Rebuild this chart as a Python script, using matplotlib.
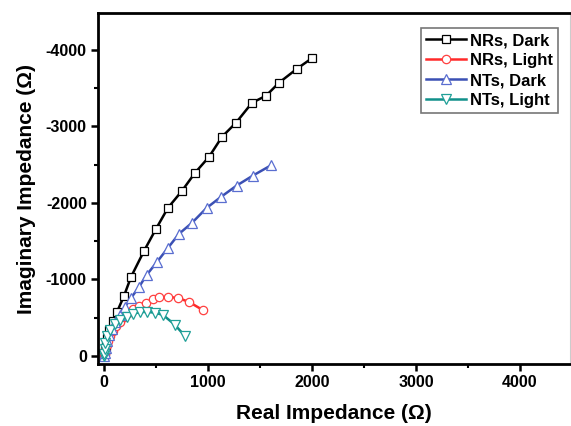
import matplotlib
matplotlib.use("Agg")
import matplotlib.pyplot as plt
from matplotlib.ticker import MultipleLocator, FuncFormatter

plt.rcParams['font.family'] = ['Liberation Sans', 'DejaVu Sans']
plt.rcParams['font.weight'] = 'bold'
plt.rcParams['axes.unicode_minus'] = False

# Data (Real Z', Imaginary Z'')
nr_dark_x = [0, 5, 15, 30, 50, 87, 125, 192, 260, 385, 500, 615, 750, 875, 1010, 1135, 1269, 1423, 1558, 1683, 1856, 2000]
nr_dark_y = [-10, -60, -130, -230, -340, -458, -575, -784, -1033, -1373, -1660, -1935, -2157, -2392, -2601, -2863, -3046, -3307, -3399, -3569, -3752, -3890]

nr_light_x = [0, 5, 12, 25, 40, 60, 85, 115, 150, 190, 230, 279, 337, 404, 471, 529, 615, 712, 817, 950]
nr_light_y = [-5, -30, -80, -140, -200, -260, -330, -390, -450, -510, -560, -614, -654, -693, -745, -771, -771, -758, -706, -600]

nt_dark_x = [0, 5, 15, 30, 50, 75, 110, 150, 200, 260, 337, 410, 510, 615, 721, 846, 988, 1125, 1276, 1433, 1603]
nt_dark_y = [-5, -40, -110, -190, -270, -350, -440, -530, -640, -758, -902, -1059, -1229, -1412, -1595, -1739, -1935, -2078, -2226, -2357, -2488]

nt_light_x = [0, 2, 5, 10, 29, 58, 106, 154, 221, 279, 346, 413, 490, 567, 680, 775]
nt_light_y = [-5, -30, -90, -170, -261, -340, -418, -470, -510, -549, -575, -575, -566, -536, -410, -265]

labels = ['NRs, Dark', 'NRs, Light', 'NTs, Dark', 'NTs, Light']
colors = ['#000000', '#ff2a2a', '#3b50b4', '#11908a']
edge_colors = ['#000000', '#ff4040', '#5a6ed0', '#20a098']
markers = ['s', 'o', '^', 'v']
sizes = [6.0, 6.0, 7.5, 7.5]

fig = plt.figure(figsize=(5.71, 4.26), dpi=100)
ax = fig.add_axes([0.1716, 0.1455, 0.8264, 0.824])

series = [(nr_dark_x, nr_dark_y), (nr_light_x, nr_light_y), (nt_dark_x, nt_dark_y), (nt_light_x, nt_light_y)]
for (x, y), lab, c, ec, m, ms in zip(series, labels, colors, edge_colors, markers, sizes):
    ax.plot(x, y, color=c, lw=1.8, marker=m, markersize=ms, markerfacecolor='white',
            markeredgecolor=ec, markeredgewidth=0.9, label=lab)

ax.set_xlim(-58, 4480)
ax.set_ylim(105, -4480)

ax.xaxis.set_major_locator(MultipleLocator(1000))
ax.xaxis.set_minor_locator(MultipleLocator(500))
ax.yaxis.set_major_locator(MultipleLocator(1000))
ax.yaxis.set_minor_locator(MultipleLocator(500))
ax.xaxis.set_major_formatter(FuncFormatter(lambda v, p: f"{int(round(v))}"))
ax.yaxis.set_major_formatter(FuncFormatter(lambda v, p: f"{int(round(v))}"))

ax.tick_params(axis='both', which='major', direction='out', length=5, width=1.8, labelsize=11.5, pad=3)
ax.tick_params(axis='both', which='minor', direction='out', length=3, width=1.5)
ax.tick_params(top=False, right=False, which='both')
for lab in ax.get_xticklabels() + ax.get_yticklabels():
    lab.set_fontweight('bold')

for side in ['left', 'bottom', 'top']:
    ax.spines[side].set_linewidth(2.0)
ax.spines['right'].set_linewidth(0.8)
ax.spines['right'].set_color('#cccccc')

ax.set_xlabel('Real Impedance (Ω)', fontsize=15, fontweight='bold', labelpad=10)
ax.set_ylabel('Imaginary Impedance (Ω)', fontsize=15, fontweight='bold', labelpad=7)

leg = ax.legend(loc='upper right', bbox_to_anchor=(0.975, 0.957), fontsize=12, frameon=True, fancybox=False,
                edgecolor='#555555', handlelength=2.4, handletextpad=0.25, borderpad=0.3,
                labelspacing=0.3, borderaxespad=0)
leg.get_frame().set_linewidth(1.2)
for t in leg.get_texts():
    t.set_fontweight('bold')

fig.savefig('out.png', dpi=100)
